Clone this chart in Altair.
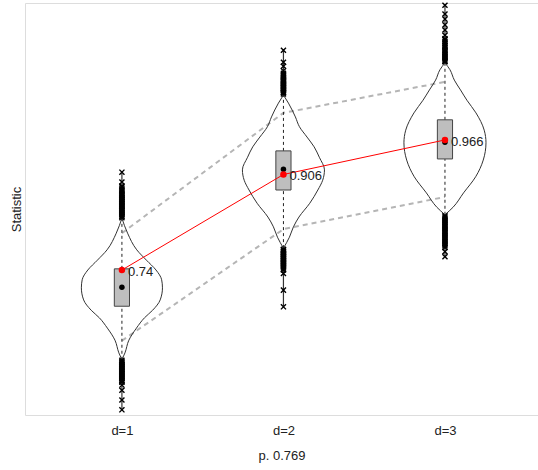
import altair as alt
import pandas as pd

# Groups and summary statistics
groups = ["d=1", "d=2", "d=3"]
positions = [1, 2, 3]
means = [0.74, 0.906, 0.966]
medians = [0.710, 0.915, 0.962]
q1 = [0.677, 0.879, 0.933]
q3 = [0.742, 0.947, 1.001]
whisker_lo = [0.584, 0.778, 0.836]
whisker_hi = [0.830, 1.044, 1.100]

# Upper / lower reference bands connected across groups
band_upper = [0.804, 1.013, 1.067]
band_lower = [0.617, 0.811, 0.867]

# Violin outlines: statistic level and half-width (in x units)
violin_y = [
    [0.830, 0.804, 0.775, 0.757, 0.740, 0.723, 0.709, 0.688, 0.670, 0.657, 0.639, 0.618, 0.596, 0.584],
    [1.044, 1.030, 1.006, 0.989, 0.971, 0.954, 0.936, 0.914, 0.896, 0.879, 0.856, 0.832, 0.815, 0.797, 0.778],
    [1.100, 1.088, 1.070, 1.053, 1.035, 1.013, 0.983, 0.961, 0.931, 0.902, 0.874, 0.849, 0.836],
]
violin_hw = [
    [0.0, 0.035, 0.092, 0.152, 0.211, 0.246, 0.251, 0.237, 0.190, 0.140, 0.090, 0.043, 0.019, 0.0],
    [0.0, 0.031, 0.074, 0.099, 0.146, 0.190, 0.222, 0.254, 0.243, 0.213, 0.163, 0.096, 0.062, 0.037, 0.0],
    [0.0, 0.031, 0.058, 0.096, 0.136, 0.192, 0.243, 0.254, 0.237, 0.190, 0.115, 0.050, 0.0],
]

# Outlying observations beyond the whiskers
outliers = [
    [0.910, 0.893, 0.886, 0.884, 0.881, 0.879, 0.877, 0.874, 0.872, 0.871, 0.869, 0.868,
     0.866, 0.865, 0.863, 0.862, 0.860, 0.859, 0.857, 0.856, 0.854, 0.853, 0.851, 0.850,
     0.848, 0.846, 0.845, 0.843, 0.842, 0.840, 0.839, 0.837, 0.836, 0.834, 0.833, 0.831,
     0.583, 0.581, 0.579, 0.578, 0.576, 0.575, 0.573, 0.572, 0.570, 0.569, 0.567, 0.566,
     0.564, 0.563, 0.561, 0.560, 0.558, 0.557, 0.555, 0.554, 0.552, 0.551, 0.549, 0.548,
     0.546, 0.545, 0.540, 0.531, 0.514, 0.497],
    [1.122, 1.101, 1.094, 1.086, 1.082, 1.080, 1.078, 1.076, 1.074, 1.072, 1.070, 1.069,
     1.067, 1.066, 1.064, 1.063, 1.061, 1.060, 1.058, 1.057, 1.055, 1.054, 1.052, 1.051,
     1.049, 1.048, 1.046,
     0.776, 0.775, 0.773, 0.772, 0.770, 0.769, 0.767, 0.766, 0.764, 0.763, 0.761, 0.760,
     0.758, 0.757, 0.755, 0.754, 0.752, 0.751, 0.749, 0.748, 0.746, 0.745, 0.742, 0.740,
     0.734, 0.705, 0.676],
    [1.200, 1.185, 1.176, 1.166, 1.157, 1.148, 1.142, 1.140, 1.137, 1.134, 1.131, 1.129,
     1.127, 1.124, 1.122, 1.119, 1.117, 1.115, 1.113, 1.111, 1.109, 1.107, 1.105, 1.103,
     1.102,
     0.834, 0.832, 0.830, 0.828, 0.826, 0.824, 0.822, 0.820, 0.818, 0.816, 0.814, 0.812,
     0.810, 0.808, 0.806, 0.804, 0.802, 0.800, 0.798, 0.796, 0.794, 0.792, 0.790, 0.788,
     0.786, 0.784, 0.782, 0.779, 0.772, 0.763],
]

BOX_HALF = 0.047

summary = pd.DataFrame({
    "group": groups, "pos": positions, "mean": means, "median": medians,
    "q1": q1, "q3": q3, "wlo": whisker_lo, "whi": whisker_hi,
    "upper": band_upper, "lower": band_lower,
})
summary["box_l"] = summary["pos"] - BOX_HALF
summary["box_r"] = summary["pos"] + BOX_HALF
summary["label"] = [str(m) for m in means]
summary["vmin"] = [min(o) for o in outliers]
summary["vmax"] = [max(o) for o in outliers]

violin_rows = []
for g, p, ys, hws in zip(groups, positions, violin_y, violin_hw):
    for v, hw in zip(ys, hws):
        violin_rows.append({"group": g, "v": v, "left": p - hw, "right": p + hw})
violins = pd.DataFrame(violin_rows)

out_rows = []
for g, p, vals in zip(groups, positions, outliers):
    for v in vals:
        out_rows.append({"group": g, "pos": p, "v": v})
outs = pd.DataFrame(out_rows)

whisk_rows = []
for g, p, a, b, c, d in zip(groups, positions, q3, whisker_hi, whisker_lo, q1):
    whisk_rows.append({"group": g, "pos": p, "a": a, "b": b})
    whisk_rows.append({"group": g, "pos": p, "a": c, "b": d})
whisk = pd.DataFrame(whisk_rows)

ext_rows = []
for g, p, lo, hi, wl, wh in zip(groups, positions, summary["vmin"], summary["vmax"], whisker_lo, whisker_hi):
    ext_rows.append({"group": g, "pos": p, "a": wh, "b": hi})
    ext_rows.append({"group": g, "pos": p, "a": lo, "b": wl})
ext = pd.DataFrame(ext_rows)

x_scale = alt.Scale(domain=[0.4, 3.576], nice=False, zero=False)
y_scale = alt.Scale(domain=[0.488, 1.204], nice=False, zero=False)

label_expr = " : ".join(f"datum.value == {p} ? '{g}'" for p, g in zip(positions, groups)) + " : ''"
x_axis = alt.Axis(values=positions, labelExpr=label_expr, ticks=False, tickSize=0,
                  domain=False, grid=False, labelPadding=9, labelFontSize=13,
                  labelColor="#222", title="p. 0.769", titleFontSize=13,
                  titleFontWeight="normal", titleColor="#222",
                  titleBaseline="alphabetic", titleY=44)
y_axis = alt.Axis(labels=False, ticks=False, domain=False, grid=False,
                  title="Statistic", titleFontSize=13, titleFontWeight="normal",
                  titleColor="#222", titleBaseline="alphabetic", titleX=-5, titleY=206)


def X(field):
    return alt.X(field, type="quantitative", scale=x_scale, axis=x_axis)


def Y(field):
    return alt.Y(field, type="quantitative", scale=y_scale, axis=y_axis)


base = alt.Chart(summary)

upper_line = base.mark_line(color="#b5b5b5", strokeWidth=2, strokeDash=[5, 4]).encode(
    x=X("pos"), y=Y("upper"))
lower_line = base.mark_line(color="#b5b5b5", strokeWidth=2, strokeDash=[5, 4]).encode(
    x=X("pos"), y=Y("lower"))

violin = alt.Chart(violins).mark_area(
    orient="horizontal", interpolate="monotone", fillOpacity=0,
    stroke="#333", strokeWidth=1).encode(
    y=Y("v"), x=X("left"), x2="right", detail="group:N")

extension = alt.Chart(ext).mark_rule(color="#333", strokeWidth=1.2).encode(
    x=X("pos"), y=Y("a"), y2="b")
whiskers = alt.Chart(whisk).mark_rule(color="#222", strokeWidth=1, strokeDash=[3, 3]).encode(
    x=X("pos"), y=Y("a"), y2="b")

boxes = base.mark_rect(fill="#bebebe", stroke="#444", strokeWidth=1).encode(
    x=X("box_l"), x2="box_r", y=Y("q1"), y2="q3")

crosses = alt.Chart(outs).mark_point(
    shape="M-1,-1L1,1M-1,1L1,-1", filled=False, color="black",
    strokeWidth=1.4, size=26, opacity=1).encode(x=X("pos"), y=Y("v"))

med_pts = base.mark_point(filled=True, color="black", size=30, opacity=1).encode(
    x=X("pos"), y=Y("median"))

mean_line = base.mark_line(color="red", strokeWidth=1).encode(x=X("pos"), y=Y("mean"))
mean_pts = base.mark_point(filled=True, color="red", size=42, opacity=1).encode(
    x=X("pos"), y=Y("mean"))
mean_text = base.mark_text(align="left", baseline="middle", dx=6, dy=2,
                           fontSize=13, color="#222").encode(
    x=X("pos"), y=Y("mean"), text="label:N")

chart = alt.layer(
    upper_line, lower_line, violin, extension, whiskers, boxes, crosses,
    med_pts, mean_line, mean_pts, mean_text
).properties(
    width=513, height=412,
    padding={"left": 25, "top": 3, "right": 0, "bottom": 55},
    autosize="none",
).configure_view(
    stroke="#555", strokeWidth=1
).configure(
    font="Liberation Sans", background="white"
)

chart.save("out.html", embed_options={"renderer": "svg", "actions": False})
